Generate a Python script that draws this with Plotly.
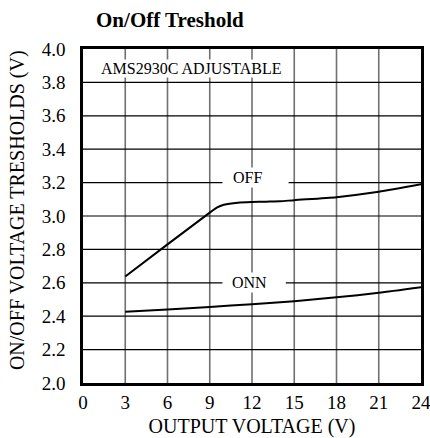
import plotly.graph_objects as go

off_x = [3, 6, 9, 9.5, 10, 11, 12, 13, 14, 15, 18, 21, 24]
off_y = [2.638, 2.83, 3.02, 3.05, 3.067, 3.08, 3.084, 3.086, 3.088, 3.095, 3.113, 3.145, 3.19]
onn_x = [3, 6, 9, 12, 15, 18, 21, 24]
onn_y = [2.427, 2.44, 2.455, 2.472, 2.49, 2.513, 2.54, 2.573]
x_ticks = [0, 3, 6, 9, 12, 15, 18, 21, 24]
y_ticks = [2.0, 2.2, 2.4, 2.6, 2.8, 3.0, 3.2, 3.4, 3.6, 3.8, 4.0]

FONT = "Liberation Serif"

fig = go.Figure()
fig.add_trace(go.Scatter(x=off_x, y=off_y, mode="lines",
                         line=dict(color="black", width=2, shape="spline", smoothing=0.6),
                         showlegend=False, hoverinfo="skip"))
fig.add_trace(go.Scatter(x=onn_x, y=onn_y, mode="lines",
                         line=dict(color="black", width=2, shape="spline", smoothing=0.6),
                         showlegend=False, hoverinfo="skip"))

# vertical gray grid lines
for xv in x_ticks[1:-1]:
    fig.add_shape(type="line", x0=xv, x1=xv, y0=2.0, y1=4.0, xref="x", yref="y",
                  line=dict(color="#707070", width=1.6), layer="below")
# horizontal black grid lines (with gaps where curve labels sit)
gaps = {3.2: (9.9, 14.6), 2.6: (9.9, 14.4)}
for yv in y_ticks[1:-1]:
    if yv in gaps:
        g0, g1 = gaps[yv]
        segs = [(0, g0), (g1, 24)]
    else:
        segs = [(0, 24)]
    for a, b in segs:
        fig.add_shape(type="line", x0=a, x1=b, y0=yv, y1=yv, xref="x", yref="y",
                      line=dict(color="black", width=1.2), layer="below")

fig.add_annotation(x=11.7, y=3.23, text="OFF", showarrow=False, bgcolor="white",
                   borderpad=1, font=dict(family=FONT, size=16, color="black"),
                   xref="x", yref="y")
fig.add_annotation(x=11.8, y=2.6, text="ONN", showarrow=False, bgcolor="white",
                   borderpad=1, font=dict(family=FONT, size=16, color="black"),
                   xref="x", yref="y")
fig.add_annotation(x=1.2, y=3.886, text="AMS2930C ADJUSTABLE", showarrow=False, bgcolor="white",
                   xanchor="left", borderpad=0, font=dict(family=FONT, size=16, color="black"),
                   xref="x", yref="y")
# y-axis title
fig.add_annotation(x=-0.192, y=0.518, xref="paper", yref="paper", textangle=-90,
                   text="ON/OFF VOLTAGE TRESHOLDS (V)", showarrow=False,
                   xanchor="center", yanchor="middle",
                   font=dict(family=FONT, size=20, color="black"))

fig.update_layout(
    width=430, height=438,
    margin=dict(l=83, r=9, t=49, b=55),
    paper_bgcolor="white", plot_bgcolor="white",
    font=dict(family=FONT, color="black"),
    title=dict(text="<b>On/Off Treshold</b>", x=0.395, xanchor="center", y=0.954,
               yanchor="middle", font=dict(family=FONT, size=21, color="black")),
    xaxis=dict(range=[0, 24], tickvals=x_ticks, ticktext=[str(v) for v in x_ticks],
               showgrid=False, zeroline=False, showline=True, mirror=True, automargin=False,
               linecolor="black", linewidth=2.5, ticks="", tickfont=dict(size=19),
               ticklabeloverflow="allow",
               title=dict(text="OUTPUT VOLTAGE (V)", font=dict(size=20), standoff=12)),
    yaxis=dict(range=[2.0, 4.0], tickvals=y_ticks, ticktext=[f"{v:.1f}" for v in y_ticks],
               showgrid=False, zeroline=False, showline=True, mirror=True, automargin=False,
               linecolor="black", linewidth=2.5, ticks="", tickfont=dict(size=19),
               ticklabelstandoff=11, ticklabeloverflow="allow"),
)

fig.write_html("out.html", config={"displayModeBar": False},
               post_script="document.body.style.margin='0';document.body.style.overflow='hidden';")
